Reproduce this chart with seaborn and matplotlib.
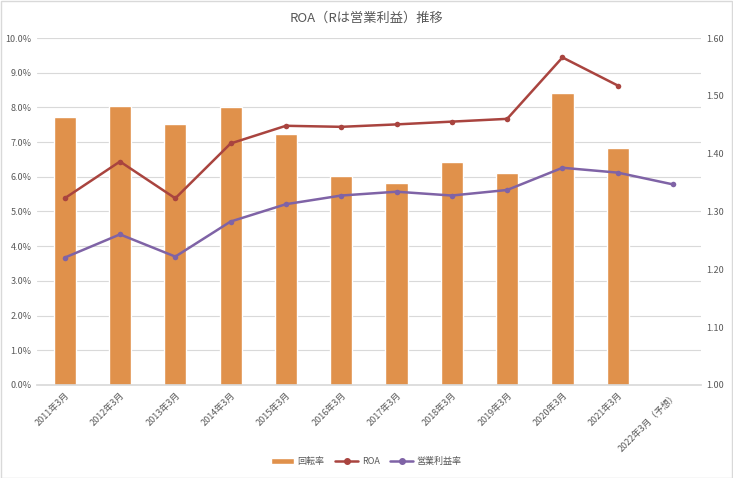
import numpy as np
import pandas as pd
import seaborn as sns
import matplotlib
import matplotlib.pyplot as plt
from matplotlib.patches import Patch, Rectangle
from matplotlib.lines import Line2D
from matplotlib.ticker import FuncFormatter, MultipleLocator

matplotlib.use("Agg")

# ----------------------------
# Data
periods = ["2011年3月", "2012年3月", "2013年3月", "2014年3月", "2015年3月", "2016年3月",
           "2017年3月", "2018年3月", "2019年3月", "2020年3月", "2021年3月", "2022年3月（予想）"]
turnover = [1.463, 1.482, 1.451, 1.481, 1.434, 1.361, 1.349, 1.386, 1.367, 1.505, 1.409, np.nan]
roa = [5.38, 6.44, 5.38, 6.96, 7.47, 7.44, 7.51, 7.59, 7.67, 9.44, 8.63, np.nan]
op_margin = [3.67, 4.34, 3.70, 4.71, 5.21, 5.46, 5.57, 5.46, 5.62, 6.26, 6.12, 5.78]
# ----------------------------

sns.set_theme(style="white")
plt.rcParams["font.family"] = ["Noto Sans CJK JP", "DejaVu Sans"]

bar_color = "#E0914B"
roa_color = "#A9443F"
op_color = "#7F63A6"
text_color = "#595959"
grid_color = "#D9D9D9"

df = pd.DataFrame({"period": periods, "turnover": turnover, "roa": roa, "op": op_margin})

fig = plt.figure(figsize=(7.33, 4.78), dpi=100)
ax = fig.add_axes([0.0505, 0.1946, 0.9055, 0.7259])  # bars (right scale)
ax2 = ax.twinx()                                       # lines (left scale)

# bars on the right-hand scale
sns.barplot(data=df, x="period", y="turnover", color=bar_color, width=0.4,
            saturation=1, ax=ax, zorder=2)
ax.set_ylim(1.0, 1.6)
ax.yaxis.set_major_locator(MultipleLocator(0.1))
ax.yaxis.tick_right()
ax.yaxis.set_label_position("right")
ax.yaxis.set_major_formatter(FuncFormatter(lambda v, p: f"{v:.2f}"))

# lines on the left-hand scale
sns.lineplot(data=df, x="period", y="roa", color=roa_color, marker="o", markersize=4,
             markeredgewidth=0, linewidth=1.8, ax=ax2, zorder=3)
sns.lineplot(data=df, x="period", y="op", color=op_color, marker="o", markersize=4,
             markeredgewidth=0, linewidth=1.8, ax=ax2, zorder=3)
ax2.set_ylim(0, 10)
ax2.yaxis.set_major_locator(MultipleLocator(1))
ax2.yaxis.tick_left()
ax2.yaxis.set_label_position("left")
ax2.yaxis.set_major_formatter(FuncFormatter(lambda v, p: f"{v:.1f}%"))

# gridlines from the left scale, drawn behind the bars
for v in np.arange(1, 11):
    ax.axhline(1.0 + v * 0.06, color=grid_color, linewidth=0.8, zorder=0)

for a in (ax, ax2):
    a.set_xlabel("")
    a.set_ylabel("")
    for s in a.spines.values():
        s.set_visible(False)
    a.tick_params(axis="both", length=0, labelsize=6.5, labelcolor=text_color, pad=4)
ax.spines["bottom"].set_visible(True)
ax.spines["bottom"].set_color(grid_color)
ax.set_xlim(-0.5, len(periods) - 0.5)

for lbl in ax.get_xticklabels():
    lbl.set_rotation(45)
    lbl.set_ha("right")
    lbl.set_rotation_mode("anchor")

fig.suptitle("ROA（Rは営業利益）推移", y=0.975, fontsize=9.5, color=text_color)

handles = [
    Patch(facecolor=bar_color, label="回転率"),
    Line2D([0], [0], color=roa_color, marker="o", markersize=4, linewidth=1.8, label="ROA"),
    Line2D([0], [0], color=op_color, marker="o", markersize=4, linewidth=1.8, label="営業利益率"),
]
fig.legend(handles=handles, loc="center", bbox_to_anchor=(0.5, 0.034), ncol=3,
           frameon=False, fontsize=6.5, labelcolor=text_color, handlelength=2.5,
           columnspacing=1.2, handletextpad=0.4)

fig.patches.append(Rectangle((0.001, 0.001), 0.997, 0.997, transform=fig.transFigure,
                             fill=False, edgecolor=grid_color, linewidth=1))

fig.savefig("out.png", dpi=100)
